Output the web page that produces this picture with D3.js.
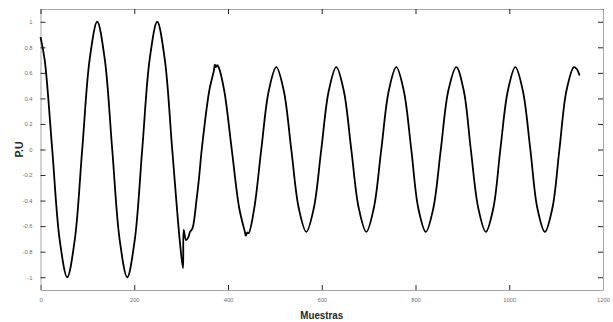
<!DOCTYPE html>
<html>
<head>
<meta charset="utf-8">
<script src="https://cdnjs.cloudflare.com/ajax/libs/d3/7.8.5/d3.min.js"></script>
<style>
  body { margin: 0; background: #fff; }
  svg { display: block; }
  .tick text { font-family: "Liberation Sans", Arial, sans-serif; }
</style>
</head>
<body>
<svg id="chart" width="613" height="322"></svg>
<script>
// samples (x) and per-unit values (y)
const samples = [
    0, 9, 25, 41, 57, 73, 89, 105, 121, 137, 153, 169, 185, 201, 217, 233, 249, 265, 281, 297,
    304, 305.5, 310.5, 315, 319, 324, 333, 338, 344, 360, 370, 372, 374, 377, 380, 392,
    408, 424, 436, 438, 441, 444, 456, 471, 487, 503, 519, 535, 551, 567, 583, 599,
    615, 631, 647, 663, 679, 695, 711, 727, 743, 759, 775, 791, 806, 822, 838, 854,
    870, 887, 903, 918, 934, 950, 966, 981, 997, 1013, 1029, 1045, 1060, 1076, 1092, 1107,
    1122, 1138, 1144, 1150
];
const puValues = [
    0.88, 0.70, 0.00, -0.71, -1.00, -0.71, 0.00, 0.71, 1.00, 0.71, 0.00, -0.71, -1.00, -0.71, 0.00, 0.71, 1.00, 0.71, 0.00, -0.71,
    -0.93, -0.63, -0.71, -0.69, -0.645, -0.62, -0.39, -0.23, 0.00, 0.46, 0.62, 0.665, 0.645, 0.66, 0.645, 0.46,
    0.00, -0.46, -0.645, -0.675, -0.65, -0.655, -0.46, 0.00, 0.46, 0.645, 0.46, 0.00, -0.46, -0.645, -0.46, 0.00,
    0.46, 0.645, 0.46, 0.00, -0.46, -0.645, -0.46, 0.00, 0.46, 0.645, 0.46, 0.00, -0.46, -0.645, -0.46, 0.00,
    0.46, 0.645, 0.46, 0.00, -0.46, -0.645, -0.46, 0.00, 0.46, 0.645, 0.46, 0.00, -0.46, -0.645, -0.46, 0.00,
    0.46, 0.645, 0.63, 0.58
];

const xTicks = [0, 200, 400, 600, 800, 1000, 1200];
const yTicks = [-1, -0.8, -0.6, -0.4, -0.2, 0, 0.2, 0.4, 0.6, 0.8, 1];

const width = 613;
const height = 322;
const margin = { top: 9, right: 10, bottom: 32, left: 40.5 };

const svg = d3.select('#chart');

const x = d3.scaleLinear()
    .domain([0, 1200])
    .range([margin.left, width - margin.right]);

const y = d3.scaleLinear()
    .domain([-1.1, 1.1])
    .range([height - margin.bottom, margin.top]);

const fmt = d => String(+d.toFixed(1));

// bottom axis
const gx = svg.append('g')
    .attr('transform', `translate(0,${height - margin.bottom})`)
    .call(d3.axisBottom(x).tickValues(xTicks).tickSizeInner(-5).tickSizeOuter(0).tickPadding(8).tickFormat(d => d));

// left axis
const gy = svg.append('g')
    .attr('transform', `translate(${margin.left},0)`)
    .call(d3.axisLeft(y).tickValues(yTicks).tickSizeInner(-5).tickSizeOuter(0).tickPadding(8).tickFormat(fmt));

// top axis (box)
const gt = svg.append('g')
    .attr('transform', `translate(0,${margin.top})`)
    .call(d3.axisTop(x).tickValues(xTicks).tickSizeInner(-5).tickSizeOuter(0).tickFormat(''));

// right axis (box)
const gr = svg.append('g')
    .attr('transform', `translate(${width - margin.right},0)`)
    .call(d3.axisRight(y).tickValues(yTicks).tickSizeInner(-5).tickSizeOuter(0).tickFormat(''));

[gx, gy, gt, gr].forEach(g => {
    g.select('.domain').attr('stroke', '#a6a6a6').attr('stroke-width', 1);
    g.selectAll('.tick line').attr('stroke', '#262626').attr('stroke-width', 1);
    g.selectAll('.tick text').attr('fill', '#707070').attr('font-size', 5.8);
});

// waveform
const line = d3.line()
    .x((d, i) => x(samples[i]))
    .y(d => y(d))
    .curve(d3.curveCatmullRom.alpha(0.5));

svg.append('path')
    .datum(puValues)
    .attr('fill', 'none')
    .attr('stroke', '#000')
    .attr('stroke-width', 1.8)
    .attr('stroke-linejoin', 'round')
    .attr('d', line);

// axis titles
svg.append('text')
    .attr('transform', `translate(${(margin.left + width - margin.right) / 2},319) scale(0.93,1)`)
    .attr('text-anchor', 'middle')
    .attr('font-family', '"Liberation Sans", Arial, sans-serif')
    .attr('font-weight', 'bold')
    .attr('font-size', 10.5)
    .attr('fill', '#262626')
    .text('Muestras');

svg.append('text')
    .attr('transform', `translate(22.7,${y(0)}) rotate(-90)`)
    .attr('text-anchor', 'middle')
    .attr('font-family', '"Liberation Sans", Arial, sans-serif')
    .attr('font-weight', 'bold')
    .attr('font-size', 10.5)
    .attr('fill', '#262626')
    .text('P.U');
</script>
</body>
</html>
